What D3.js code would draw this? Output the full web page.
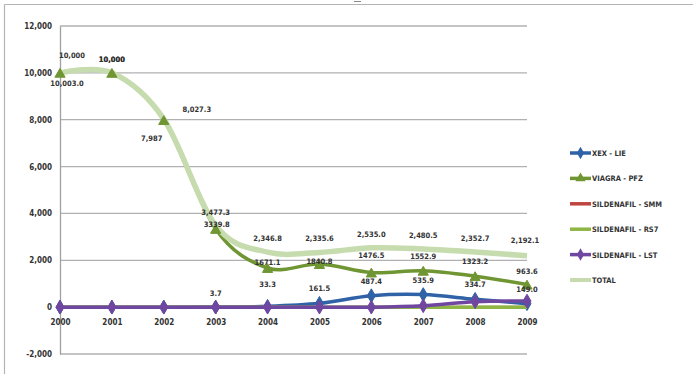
<!DOCTYPE html>
<html><head><meta charset="utf-8">
<script src="https://cdn.jsdelivr.net/npm/d3@7"></script>
<style>
body{margin:0;background:#fff;}
svg{display:block;}
text{font-family:"Liberation Sans Narrow","DejaVu Sans Condensed","Liberation Sans",sans-serif;}
</style></head><body>
<svg id="c" width="693" height="374"></svg>
<script>
const years = ["2000","2001","2002","2003","2004","2005","2006","2007","2008","2009"];
const xexLie        = [0, 0, 0, 3.7, 33.3, 161.5, 487.4, 535.9, 334.7, 149.0];
const viagraPfz     = [10003.0, 10000, 7987, 3339.8, 1671.1, 1840.8, 1476.5, 1552.9, 1323.2, 963.6];
const sildenafilSmm = [0, 0, 0, 0, 0, 0, 0, 0, 0, 0];
const sildenafilRs7 = [0, 0, 0, 0, 0, 0, 0, 0, 0, 0];
const sildenafilLst = [0, 0, 0, 0, 0, 0, 0, 60, 230, 260];
const total         = [10000, 10000, 8027.3, 3477.3, 2346.8, 2335.6, 2535.0, 2480.5, 2352.7, 2192.1];
const seriesNames = ["XEX - LIE","VIAGRA - PFZ","SILDENAFIL - SMM","SILDENAFIL - RS7","SILDENAFIL - LST","TOTAL"];
const yTicks = [-2000, 0, 2000, 4000, 6000, 8000, 10000, 12000];

const svg = d3.select("#c");
// outer frame
svg.append("line").attr("x1",4.5).attr("x2",693).attr("y1",4.5).attr("y2",4.5).attr("stroke","#b4b4b4").attr("stroke-width",1.2);
svg.append("line").attr("x1",4.5).attr("x2",4.5).attr("y1",4.5).attr("y2",374).attr("stroke","#b4b4b4").attr("stroke-width",1.2);
svg.append("line").attr("x1",354).attr("x2",361).attr("y1",1.5).attr("y2",1.5).attr("stroke","#888").attr("stroke-width",1);

const x = d3.scalePoint().domain(years).range([60, 527]);
const y = d3.scaleLinear().domain([-2000, 12000]).range([354, 26]);

// gridlines
const grid = svg.append("g");
grid.selectAll("line").data(yTicks).join("line")
  .attr("x1",60).attr("x2",527)
  .attr("y1",d=>y(d)).attr("y2",d=>y(d))
  .attr("stroke","#b0b0b0").attr("stroke-width",1.3);

// y axis
const yAxis = svg.append("g").attr("transform","translate(60,0)")
  .call(d3.axisLeft(y).tickValues(yTicks).tickSize(0).tickPadding(8)
    .tickFormat(d => d3.format(",")(d).replace("\u2212","-")));
yAxis.select(".domain").attr("stroke","#a0a0a0").attr("stroke-width",1.3);
yAxis.selectAll("text").attr("font-size",8).attr("fill","#333").attr("font-weight","bold");

// x axis labels
const xAxis = svg.append("g").attr("transform",`translate(0,${y(0)})`)
  .call(d3.axisBottom(x).tickSize(0).tickPadding(12));
xAxis.select(".domain").remove();
xAxis.selectAll("text").attr("font-size",8).attr("fill","#333").attr("font-weight","bold");

const colors = ["#2f62a6","#6f9632","#be4440","#8db645","#7047a0","#c6dcae"];
const widths = [3.5, 3.5, 3, 3.5, 3.5, 5.5];
const data = [xexLie, viagraPfz, sildenafilSmm, sildenafilRs7, sildenafilLst, total];
const markers = [d3.symbolDiamond, d3.symbolTriangle, null, null, d3.symbolDiamond, null];

const line = d3.line().x((d,i)=>x(years[i])).y(d=>y(d)).curve(d3.curveCatmullRom.alpha(0));
function drawLine(k){
  svg.append("path").attr("d", line(data[k])).attr("fill","none")
    .attr("stroke",colors[k]).attr("stroke-width",widths[k]).attr("stroke-linejoin","round");
}
function drawMarkers(k){
  svg.append("g").selectAll("path").data(data[k]).join("path")
    .attr("transform",(d,i)=>`translate(${x(years[i])},${y(d)+(k===1?1.5:0)})`)
    .attr("d", d3.symbol().type(markers[k]).size(k===1?45:55))
    .attr("fill",colors[k]).attr("stroke",colors[k]).attr("stroke-width",1);
}
drawLine(1);
drawLine(5);
drawMarkers(1);
drawLine(0); drawMarkers(0);
drawLine(2);
drawLine(3);
drawLine(4); drawMarkers(4);

// data labels
const fmt1 = d3.format(",.1f");
const lab = svg.append("g").attr("font-size",7.5).attr("fill","#333").attr("font-weight","bold").attr("text-anchor","middle");
function addLabel(i, v, txt, dx, dy) {
  lab.append("text").attr("x", x(years[i]) + dx).attr("y", y(v) + dy).text(txt);
}
// TOTAL
total.forEach((v,i)=>{
  let txt = i < 2 ? d3.format(",")(v) : fmt1(v);
  let dx = 0, dy = -11;
  if (i===0){ dx = 12; dy = -15; }
  if (i===2){ dx = 33; dy = -7; }
  if (i===9){ dx = -2; dy = -13; }
  addLabel(i, v, txt, dx, dy);
});
// VIAGRA
const viagraTxt = v => v >= 5000 ? d3.format(",")(v) : d3.format(".1f")(v);
viagraPfz.forEach((v,i)=>{
  let txt = i===0 ? fmt1(v) : viagraTxt(v);
  let dx = 0, dy = -10;
  if (i===0){ dx = 7; dy = 13; }
  if (i===1){ dy = -11; }
  if (i===2){ dx = -12; dy = 21; }
  if (i===3){ dx = 1; dy = -2; }
  if (i===4){ dy = -3; }
  if (i===5){ dy = 0; }
  if (i===6){ dy = -15; }
  if (i===7){ dy = -12; }
  if (i===8){ dy = -12; }
  if (i===9){ dy = -11; }
  addLabel(i, v, txt, dx, dy);
});
// XEX
xexLie.forEach((v,i)=>{
  if (i < 3) return;
  let dy = i===3 ? -11 : (i===4 ? -19 : -12);
  addLabel(i, v, d3.format(".1f")(v), 0, dy);
});

// legend
const leg = svg.append("g");
seriesNames.forEach((n,k)=>{
  const yy = 153 + k*25.4;
  leg.append("line").attr("x1",570).attr("x2",591).attr("y1",yy).attr("y2",yy)
    .attr("stroke",colors[k]).attr("stroke-width",k===5?4:3.5);
  if (markers[k]) {
    leg.append("path").attr("transform",`translate(580.5,${yy})`)
      .attr("d", d3.symbol().type(markers[k]).size(45)).attr("fill",colors[k]);
  }
  leg.append("text").attr("x",592).attr("y",yy+3).attr("font-size",7.5)
    .attr("font-weight","bold").attr("fill","#333").text(n);
});
</script>
</body></html>
